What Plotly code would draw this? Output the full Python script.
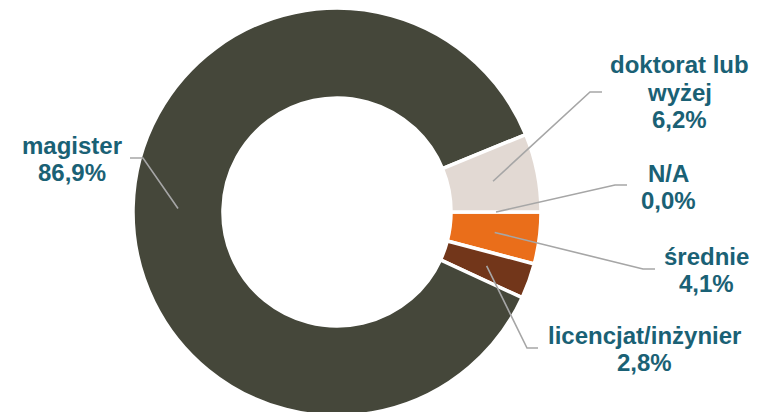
import math
import plotly.graph_objects as go

# ---------------- data ----------------
categories = ["N/A", "średnie", "licencjat/inżynier", "magister", "doktorat lub wyżej"]
values = [0.0, 4.1, 2.8, 86.9, 6.2]
display_lines = [["N/A"], ["średnie"], ["licencjat/inżynier"], ["magister"], ["doktorat lub", "wyżej"]]

# ---------------- style ----------------
colors = ["#BFBFBF", "#EA6E1A", "#72361A", "#45473A", "#E2D9D3"]
TEXT_COLOR = "#1A6175"
LINE_COLOR = "#A6A6A6"
FONT = "Liberation Sans, Arial, sans-serif"
FSIZE = 24
LINE_GAP = 27

W, H = 766, 412
OFF = 8            # page body margin offset (pixels)
MT, MB = 0, 4
CX_PAGE = 337
R = (H - MT - MB) / 2
CY_PAGE = OFF + MT + R
HOLE = 0.559

# label text centres (page pixels, first line) and leader elbow / end points
label_xy = [(668, 173), (706, 256), (644, 335), (72, 145), (679, 65)]
elbows = [((615, 185), (627, 185)),
          ((643, 269), (655, 269)),
          ((527, 348), (538, 348)),
          ((143, 158), (130, 158)),
          ((590, 92), (602, 92))]


def px(x):
    return (x - OFF) / W


def py(y):
    return (H - MB - (y - OFF)) / (H - MT - MB)


fig = go.Figure()
fig.add_trace(go.Pie(
    labels=categories,
    values=values,
    sort=False,
    direction="clockwise",
    rotation=90,
    hole=HOLE,
    textinfo="none",
    hoverinfo="label+percent",
    marker=dict(colors=colors, line=dict(color="white", width=3.5)),
    showlegend=False,
    domain=dict(x=[(CX_PAGE - OFF - R) / W, (CX_PAGE - OFF + R) / W], y=[0, 1]),
))

# leader lines anchored at the middle of each slice (from the data)
total = sum(values)
cum = 0.0
r_mid = R * (1 + HOLE) / 2
annotations = []
shapes = []
for cat, v, lines, (lx, ly), (e1, e2) in zip(categories, values, display_lines, label_xy, elbows):
    mid = -(cum + v / 2) / total * 360.0
    cum += v
    ax = CX_PAGE + r_mid * math.cos(math.radians(mid))
    ay = CY_PAGE - r_mid * math.sin(math.radians(mid))
    path = f"M {px(ax)},{py(ay)} L {px(e1[0])},{py(e1[1])} L {px(e2[0])},{py(e2[1])}"
    shapes.append(dict(type="path", path=path, xref="paper", yref="paper",
                       line=dict(color=LINE_COLOR, width=1.6), layer="above"))
    pct = f"{v:.1f}".replace(".", ",") + "%"
    for i, t in enumerate(lines + [pct]):
        annotations.append(dict(
            x=px(lx), y=py(ly + i * LINE_GAP), xref="paper", yref="paper",
            text=f"<b>{t}</b>", showarrow=False, xanchor="center", yanchor="middle",
            font=dict(family=FONT, size=FSIZE, color=TEXT_COLOR),
        ))

fig.update_layout(
    width=W, height=H,
    margin=dict(l=0, r=0, t=MT, b=MB),
    paper_bgcolor="white", plot_bgcolor="white",
    annotations=annotations, shapes=shapes,
)

fig.write_html("out.html")
